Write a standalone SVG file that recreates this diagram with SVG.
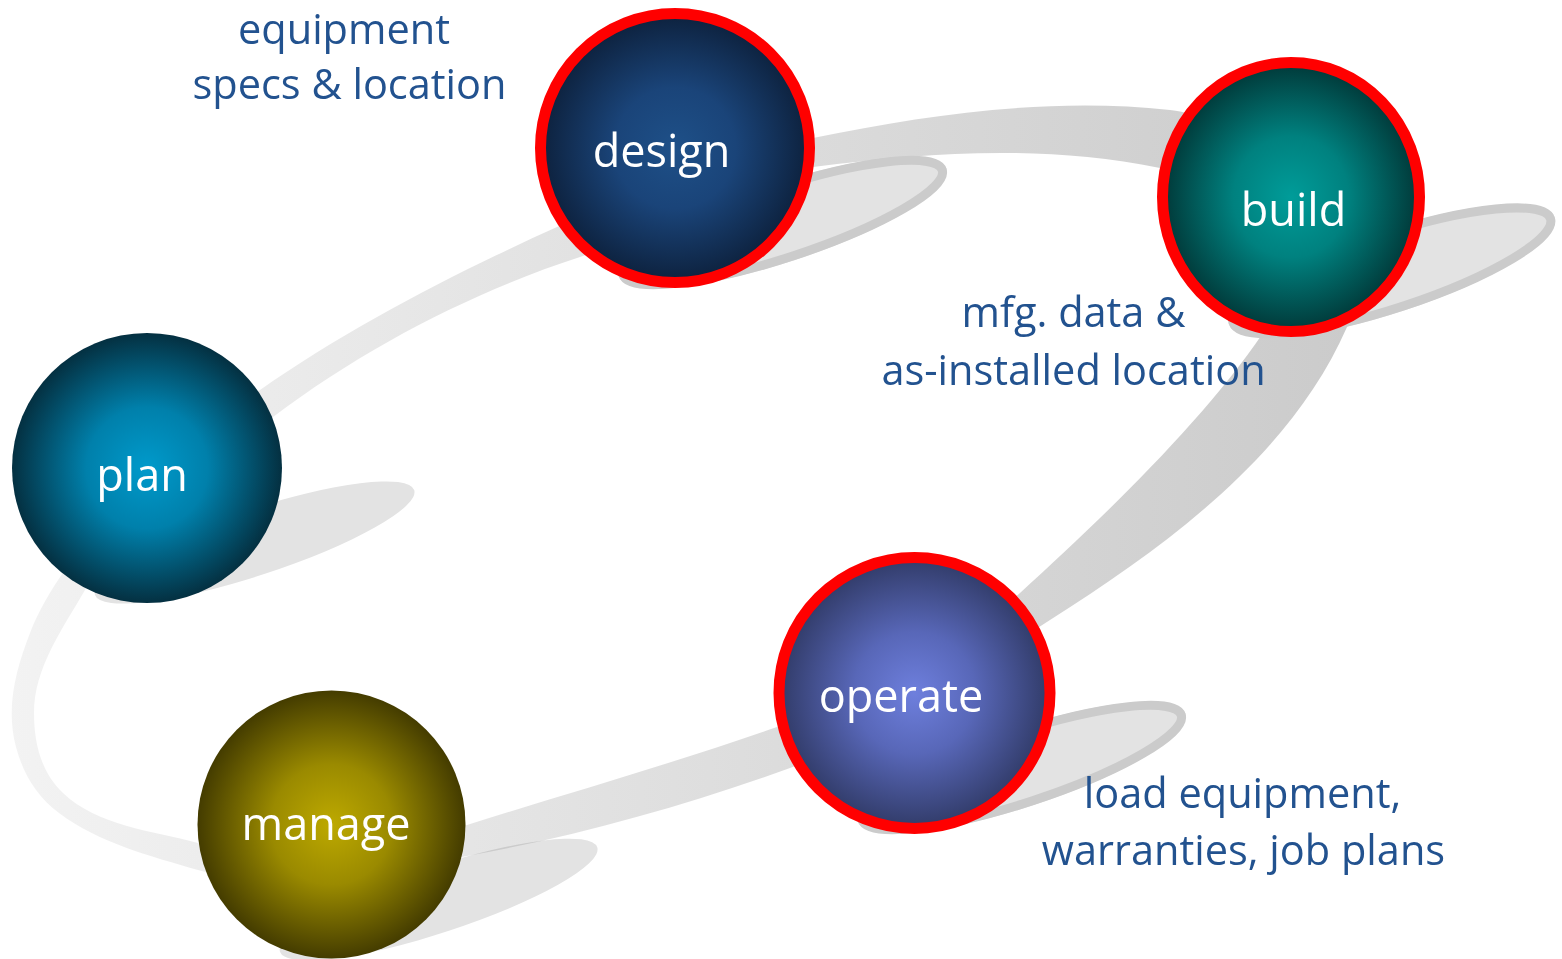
<svg xmlns="http://www.w3.org/2000/svg" width="1562" height="959" viewBox="0 0 1562 959">
<style>
.lbl{font-family:"Open Sans","Liberation Sans",sans-serif;font-size:45px;fill:#ffffff;text-anchor:middle}
.note{font-family:"Open Sans","Liberation Sans",sans-serif;font-size:41.5px;fill:#22528f;text-anchor:middle}
.sh{fill:#e3e3e3;mix-blend-mode:multiply}
.sho{fill:none;stroke:#cbcbcb;stroke-width:9}
.ring{stroke:#ff0000;stroke-width:11}
</style>
<defs>
<linearGradient id="band" gradientUnits="userSpaceOnUse" x1="0" y1="0" x2="1350" y2="0">
<stop offset="0" stop-color="#f3f3f3"/>
<stop offset="1" stop-color="#cbcbcb"/>
</linearGradient>
<radialGradient id="gDesign"><stop offset="0" stop-color="#1e5088"/><stop offset="0.45" stop-color="#1a4479"/><stop offset="1" stop-color="#0d213d"/></radialGradient>
<radialGradient id="gBuild"><stop offset="0" stop-color="#009c99"/><stop offset="0.45" stop-color="#00817f"/><stop offset="1" stop-color="#013838"/></radialGradient>
<radialGradient id="gPlan"><stop offset="0" stop-color="#009acb"/><stop offset="0.45" stop-color="#0080ab"/><stop offset="1" stop-color="#043041"/></radialGradient>
<radialGradient id="gManage"><stop offset="0" stop-color="#bda900"/><stop offset="0.45" stop-color="#9a8a00"/><stop offset="1" stop-color="#443c00"/></radialGradient>
<radialGradient id="gOperate"><stop offset="0" stop-color="#6e7fdd"/><stop offset="0.45" stop-color="#5867b8"/><stop offset="1" stop-color="#313b68"/></radialGradient>
</defs>
<g id="connectors">
<path fill="url(#band)" fill-rule="evenodd" d="M 260,390 C 350,327 457,272 557,227 C 639,190 725,156 813,138 C 930.6,114 1050.7,97.2 1170,110 C 1249.5,118.6 1390.9,226.1 1347,327 C 1291,455 1168,545 1050,620 C 965.7,673.8 884,734 790,768 C 686.6,805.4 575.2,836.6 467,856 C 378.4,871.8 284.4,895.2 198,870 C 150,856 99,843 59,813 C 36.6,796.2 23.3,774.2 16,747 C 5.6,708.2 15.6,670.2 30,633 C 66,540 178,447 260,390 Z M 273,417 C 368,345 478,290 580,257 C 656,231.4 733.8,178 813,167 C 932,152 1042.4,144.5 1160,168 C 1218.8,180 1296.6,283.2 1263,333 C 1201,424 1101,519 1020,593 C 953.4,653.3 861.6,697.3 777,727 C 678.3,761.7 567,793.5 467,825 C 391,849 275.6,863.8 198,843 C 151.4,830.5 98,826.1 63,793 C 41.1,772.3 34,743 34,713 C 34,668 62.5,629 85,590 C 125,520 209,465 273,417 Z"/>
</g>
<g id="shadows">
<ellipse class="sh" cx="254.6" cy="542.5" rx="168" ry="33" transform="rotate(-18.2 254.6 542.5)"/>
<ellipse class="sh" cx="438.6" cy="899.5" rx="167" ry="33" transform="rotate(-18.2 438.6 899.5)"/>
<ellipse class="sh" cx="782.6" cy="222.5" rx="172.5" ry="39.5" transform="rotate(-18.2 782.6 222.5)"/>
<ellipse class="sho" cx="782.6" cy="222.5" rx="168" ry="35" transform="rotate(-18.2 782.6 222.5)"/>
<ellipse class="sh" cx="1391.8" cy="270.8" rx="171.5" ry="41.5" transform="rotate(-18.2 1391.8 270.8)"/>
<ellipse class="sho" cx="1391.8" cy="270.8" rx="167" ry="37" transform="rotate(-18.2 1391.8 270.8)"/>
<ellipse class="sh" cx="1021.6" cy="767.5" rx="172.5" ry="39.5" transform="rotate(-18.2 1021.6 767.5)"/>
<ellipse class="sho" cx="1021.6" cy="767.5" rx="168" ry="35" transform="rotate(-18.2 1021.6 767.5)"/>
</g>
<g id="plan">
<circle cx="147" cy="468" r="135" fill="url(#gPlan)"/>
<text class="lbl" x="142" y="491">plan</text>
</g>
<g id="design">
<circle class="ring" cx="675" cy="148" r="134.5" fill="url(#gDesign)"/>
<text class="lbl" x="661.5" y="167">design</text>
</g>
<g id="build">
<ellipse class="ring" cx="1291" cy="197" rx="128.5" ry="134.5" fill="url(#gBuild)"/>
<text class="lbl" x="1293.5" y="226">build</text>
</g>
<g id="operate">
<circle class="ring" cx="914.5" cy="693" r="135.5" fill="url(#gOperate)"/>
<text class="lbl" x="901" y="712">operate</text>
</g>
<g id="manage">
<circle cx="331.5" cy="824.5" r="134" fill="url(#gManage)"/>
<text class="lbl" x="326" y="840">manage</text>
</g>
<g id="notes">
<text class="note" x="344" y="44">equipment</text>
<text class="note" x="349.5" y="99">specs &amp; location</text>
<text class="note" x="1073.5" y="327">mfg. data &amp;</text>
<text class="note" x="1073.5" y="385">as-installed location</text>
<text class="note" x="1242.5" y="808">load equipment,</text>
<text class="note" x="1243.5" y="865">warranties, job plans</text>
</g>
</svg>
